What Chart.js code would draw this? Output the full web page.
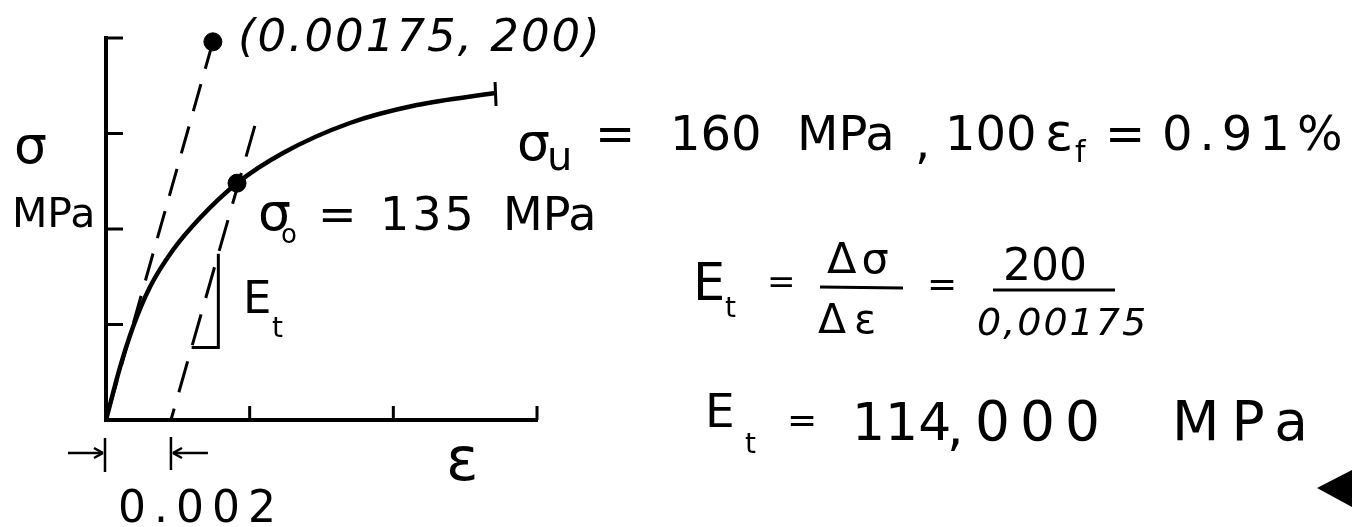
<!DOCTYPE html>
<html>
<head>
<meta charset="utf-8">
<script src="https://cdn.jsdelivr.net/npm/chart.js@4.4.1/dist/chart.umd.min.js"></script>
<style>
  html, body { margin: 0; padding: 0; background: #fff; }
  #wrap { width: 1357px; height: 527px; position: relative; }
</style>
</head>
<body>
<div id="wrap"><canvas id="chart"></canvas></div>
<script>
// Stress-strain sketch with 0.2% offset construction.
// strain (mm/mm) on x, stress (MPa) on y

const curveStrain = [0, 0.00049, 0.00094, 0.00153, 0.00233, 0.00327, 0.00456, 0.00616, 0.00849, 0.01082, 0.01354];
const curveStress = [0, 27.7, 48.7, 69.6, 89, 105.8, 124, 139.8, 155.5, 164.9, 171.2];

// dashed line from the (0.00175, 200) point back to the origin
const elasticStrain = [0.00372, 0];
const elasticStress = [198, 0];

// dashed offset line, drawn from its top end down to the 0.002 foot
const offsetStrain = [0.00518, 0.00226];
const offsetStress = [154, 0];

const markStrain = [0.00372, 0.00456];   // (0.00175, 200) and sigma_o
const markStress = [198, 124];

const slopeStress = [38, 87];   // legs of the E_t triangle

const strainTicks = [0.005, 0.01, 0.015];
const stressTicks = [50, 100, 150, 200];

const FONT = '"DejaVu Sans", sans-serif';

// strain on the offset line at a given stress
function offsetAt(s) {
    const top = offsetStress[0];
    return offsetStrain[1] + (offsetStrain[0] - offsetStrain[1]) * s / top;
}

const triangleData = [
    { x: offsetAt(slopeStress[0]), y: slopeStress[0] },
    { x: offsetAt(slopeStress[1]), y: slopeStress[0] },
    { x: offsetAt(slopeStress[1]), y: slopeStress[1] }
];

function seg(ctx, x1, y1, x2, y2) {
    ctx.beginPath();
    ctx.moveTo(x1, y1);
    ctx.lineTo(x2, y2);
    ctx.stroke();
}

function txt(ctx, s, x, y, size, opt) {
    opt = opt || {};
    ctx.font = (opt.italic ? 'italic ' : '') + size + 'px ' + FONT;
    ctx.letterSpacing = (opt.ls || 0) + 'px';
    ctx.fillText(s, x, y);
}

// text runs: [text, x, baseline, size, options]
const notes = [
    ['(0.00175, 200)', 238, 51, 45, { italic: true, ls: 2 }],
    ['σ', 14, 163, 52],
    ['MPa', 12, 227, 41],

    ['σ', 258, 230, 52],
    ['o', 281, 243, 26],
    ['=', 318, 230, 46],
    ['135', 380, 230, 46, { ls: 3 }],
    ['MPa', 503, 230, 46],

    ['σ', 517, 160, 52],
    ['u', 547, 170, 40],
    ['=', 595, 150, 48],
    ['160', 670, 150, 48],
    ['MPa', 797, 150, 48],
    [',', 915, 158, 48],
    ['100', 945, 150, 48],
    ['ε', 1045, 150, 52],
    ['f', 1075, 162, 30],
    ['=', 1105, 150, 48],
    ['0.91%', 1162, 150, 48, { ls: 7 }],

    ['E', 693, 300, 51],
    ['t', 725, 317, 28],
    ['=', 767, 293, 34],
    ['Δσ', 827, 273, 43, { ls: 5 }],
    ['Δε', 818, 333, 41, { ls: 8 }],
    ['=', 927, 296, 36],
    ['200', 1003, 280, 44],
    ['0,00175', 977, 335, 38, { italic: true, ls: 2 }],

    ['E', 705, 427, 47],
    ['t', 745, 453, 28],
    ['=', 787, 432, 36],
    ['114', 852, 440, 52],
    [',', 947, 445, 52],
    ['000', 975, 440, 55, { ls: 10 }],
    ['MPa', 1172, 440, 55, { ls: 12 }],

    ['E', 243, 313, 45],
    ['t', 272, 337, 28],
    ['ε', 446, 480, 60],
    ['0.002', 118, 522, 44, { ls: 8 }]
];

const sketchNotes = {
    id: 'sketchNotes',
    afterDraw(chart) {
        const { ctx, scales: { x, y } } = chart;
        ctx.save();
        ctx.strokeStyle = '#000';
        ctx.fillStyle = '#000';
        ctx.lineWidth = 3;

        // ticks point into the plot
        stressTicks.forEach((v) => {
            const py = y.getPixelForValue(v);
            seg(ctx, x.left, py, x.left + 17, py);
        });
        strainTicks.forEach((v) => {
            const px = x.getPixelForValue(v);
            seg(ctx, px, y.bottom, px, y.bottom - 14);
        });

        // fracture mark at the end of the curve
        const last = curveStrain.length - 1;
        const ex = x.getPixelForValue(curveStrain[last]);
        const ey = y.getPixelForValue(curveStress[last]);
        seg(ctx, ex, ey - 11, ex + 1, ey + 13);

        // 0.002 dimension arrows
        ctx.lineWidth = 2.5;
        const ay = y.bottom + 33;
        const x0 = x.getPixelForValue(0) - 1;
        const x1 = x.getPixelForValue(offsetStrain[1]);
        seg(ctx, x0, y.bottom + 18, x0, y.bottom + 52);
        seg(ctx, x0 - 37, ay, x0 - 2, ay);
        seg(ctx, x0 - 11, ay - 5, x0 - 2, ay);
        seg(ctx, x0 - 11, ay + 5, x0 - 2, ay);
        seg(ctx, x1, y.bottom + 17, x1, y.bottom + 50);
        seg(ctx, x1 + 37, ay, x1 + 2, ay);
        seg(ctx, x1 + 11, ay - 5, x1 + 2, ay);
        seg(ctx, x1 + 11, ay + 5, x1 + 2, ay);

        // fraction bars
        ctx.lineWidth = 3;
        seg(ctx, 820, 287, 903, 288);
        seg(ctx, 993, 290, 1115, 290);

        // page marker
        ctx.beginPath();
        ctx.moveTo(1317, 488);
        ctx.lineTo(1352, 470);
        ctx.lineTo(1352, 507);
        ctx.closePath();
        ctx.fill();

        ctx.textBaseline = 'alphabetic';
        notes.forEach((n) => txt(ctx, n[0], n[1], n[2], n[3], n[4]));
        ctx.restore();
    }
};

const toPoints = (xs, ys) => xs.map((v, i) => ({ x: v, y: ys[i] }));

new Chart(document.getElementById('chart'), {
    type: 'scatter',
    data: {
        datasets: [
            {
                label: 'stress-strain',
                data: toPoints(curveStrain, curveStress),
                showLine: true,
                borderColor: '#000',
                borderWidth: 4.5,
                pointRadius: 0,
                cubicInterpolationMode: 'monotone',
                clip: false
            },
            {
                label: 'elastic',
                data: toPoints(elasticStrain, elasticStress),
                showLine: true,
                borderColor: '#000',
                borderWidth: 3,
                borderDash: [28, 16],
                pointRadius: 0,
                clip: false
            },
            {
                label: 'offset',
                data: toPoints(offsetStrain, offsetStress),
                showLine: true,
                borderColor: '#000',
                borderWidth: 3,
                borderDash: [32, 17],
                pointRadius: 0,
                clip: false
            },
            {
                label: 'E_t triangle',
                data: triangleData,
                showLine: true,
                borderColor: '#000',
                borderWidth: 3,
                pointRadius: 0,
                clip: false
            },
            {
                label: 'marks',
                data: toPoints(markStrain, markStress),
                showLine: false,
                backgroundColor: '#000',
                borderColor: '#000',
                pointRadius: 9,
                clip: false
            }
        ]
    },
    options: {
        responsive: true,
        maintainAspectRatio: false,
        animation: false,
        events: [],
        layout: { padding: { left: 106, top: 38, right: 820, bottom: 107 } },
        plugins: { legend: { display: false }, tooltip: { enabled: false } },
        scales: {
            x: {
                type: 'linear',
                min: 0,
                max: 0.015,
                grid: { display: false, drawTicks: false },
                ticks: { display: false },
                border: { display: true, color: '#000', width: 4 }
            },
            y: {
                type: 'linear',
                min: 0,
                max: 200,
                grid: { display: false, drawTicks: false },
                ticks: { display: false },
                border: { display: true, color: '#000', width: 4 }
            }
        }
    },
    plugins: [sketchNotes]
});
</script>
</body>
</html>
